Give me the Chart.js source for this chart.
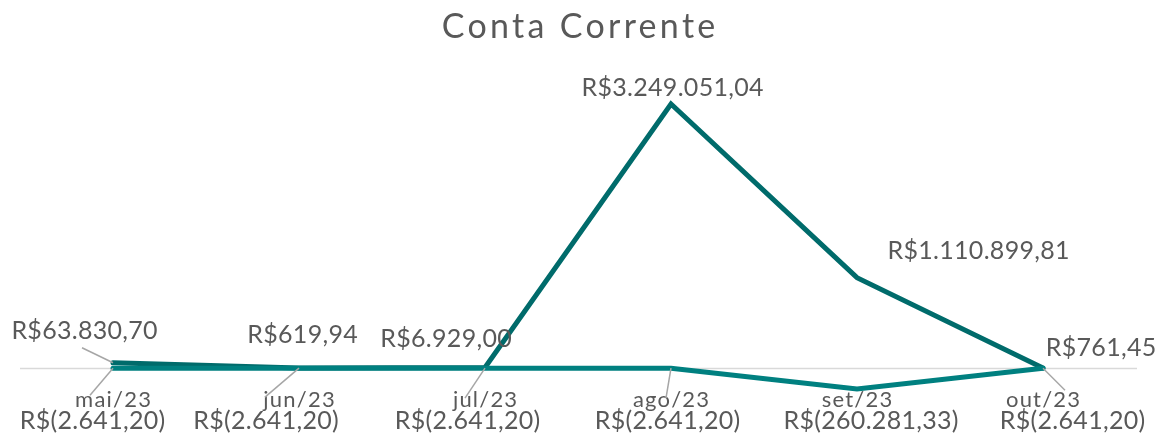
<!DOCTYPE html>
<html>
<head>
<meta charset="utf-8">
<script src="https://cdn.jsdelivr.net/npm/chart.js@4/dist/chart.umd.min.js"></script>
<style>
  html, body { margin: 0; padding: 0; background: #ffffff; }
  canvas { display: block; }
</style>
</head>
<body>
<canvas id="c" width="1157" height="434"></canvas>
<script>
// ---- data ----
const categories = ['mai/23', 'jun/23', 'jul/23', 'ago/23', 'set/23', 'out/23'];
const serieA = [63830.70, 619.94, 6929.00, 3249051.04, 1110899.81, 761.45];
const serieB = [-2641.20, -2641.20, -2641.20, -2641.20, -260281.33, -2641.20];
const chartTitle = 'Conta Corrente';

// ---- styles ----
const TEXT = '#595959';
const FONT = 'Lato, "Open Sans", sans-serif';
// label center offset from point [dx, dy]
const offA = [[-28.5, -33], [3.5, -34], [-39, -29], [1.5, -17], [121.5, -27.7], [58, -21]];
const offB = [[-20.5, 52], [-33, 52], [-17.5, 52], [-3.5, 52], [14, 31], [29.5, 52]];
// leader line end relative to point
const leadA = [[-31, -15], null, null, null, null, null];
const leadB = [[-23, 27], [-34, 29], [-20, 30], [-5, 30], null, [22, 22]];

function brl(v) {
  const s = Math.abs(v).toFixed(2);
  let [i, d] = s.split('.');
  i = i.replace(/\B(?=(\d{3})+(?!\d))/g, '.');
  const body = i + ',' + d;
  return v < 0 ? 'R$(' + body + ')' : 'R$' + body;
}

function drawText(ctx, text, cx, cy, size, ls) {
  ctx.save();
  ctx.font = size + 'px ' + FONT;
  ctx.letterSpacing = ls + 'px';
  ctx.fillStyle = TEXT;
  ctx.textAlign = 'left';
  ctx.textBaseline = 'alphabetic';
  const w = ctx.measureText(text).width;
  ctx.fillText(text, cx - (w - ls) / 2, cy + size * 0.36);
  ctx.restore();
}

const decor = {
  id: 'decor',
  beforeDatasetsDraw(chart) {
    const ctx = chart.ctx, ys = chart.scales.y, a = chart.chartArea;
    const y0 = Math.round(ys.getPixelForValue(0)) + 0.5;
    ctx.save();
    ctx.strokeStyle = '#D9D9D9';
    ctx.lineWidth = 1.5;
    ctx.beginPath();
    ctx.moveTo(a.left, y0);
    ctx.lineTo(a.right + 1, y0);
    ctx.stroke();
    ctx.restore();
  },
  afterDatasetsDraw(chart) {
    const ctx = chart.ctx, xs = chart.scales.x, ys = chart.scales.y;
    // category labels at the zero line
    const y0 = ys.getPixelForValue(0);
    categories.forEach((c, i) => {
      drawText(ctx, c, xs.getPixelForValue(i), y0 + 31, 22, 1.2);
    });
    const sets = [[serieA, offA, leadA], [serieB, offB, leadB]];
    // leader lines
    ctx.save();
    ctx.strokeStyle = '#A6A6A6';
    ctx.lineWidth = 1.5;
    sets.forEach(([vals, off, lead]) => {
      vals.forEach((v, i) => {
        if (!lead[i]) return;
        const px = xs.getPixelForValue(i), py = ys.getPixelForValue(v);
        ctx.beginPath();
        ctx.moveTo(px, py);
        ctx.lineTo(px + lead[i][0], py + lead[i][1]);
        ctx.stroke();
      });
    });
    ctx.restore();
    // data labels
    sets.forEach(([vals, off]) => {
      vals.forEach((v, i) => {
        const px = xs.getPixelForValue(i), py = ys.getPixelForValue(v);
        drawText(ctx, brl(v), px + off[i][0], py + off[i][1], 25, 0.3);
      });
    });
  },
  afterDraw(chart) {
    drawText(chart.ctx, chartTitle, chart.width / 2, 26, 34, 3.3);
  }
};

new Chart(document.getElementById('c'), {
  type: 'line',
  data: {
    labels: categories,
    datasets: [
      { label: 'Saldo', data: serieA, borderColor: '#006B6B', borderWidth: 5,
        pointRadius: 0, tension: 0, order: 1, borderCapStyle: 'round', borderJoinStyle: 'miter' },
      { label: 'Saldo negativo', data: serieB, borderColor: '#008080', borderWidth: 5,
        pointRadius: 0, tension: 0, order: 0, borderCapStyle: 'round', borderJoinStyle: 'miter' }
    ]
  },
  options: {
    responsive: false,
    animation: false,
    devicePixelRatio: 1,
    layout: { padding: { top: 60, bottom: 9, left: 20, right: 21 } },
    plugins: { legend: { display: false }, title: { display: false }, tooltip: { enabled: false } },
    scales: {
      x: { type: 'category', offset: true, display: false },
      y: { display: false, min: -702000, max: 3790000 }
    }
  },
  plugins: [decor]
});
</script>
</body>
</html>
